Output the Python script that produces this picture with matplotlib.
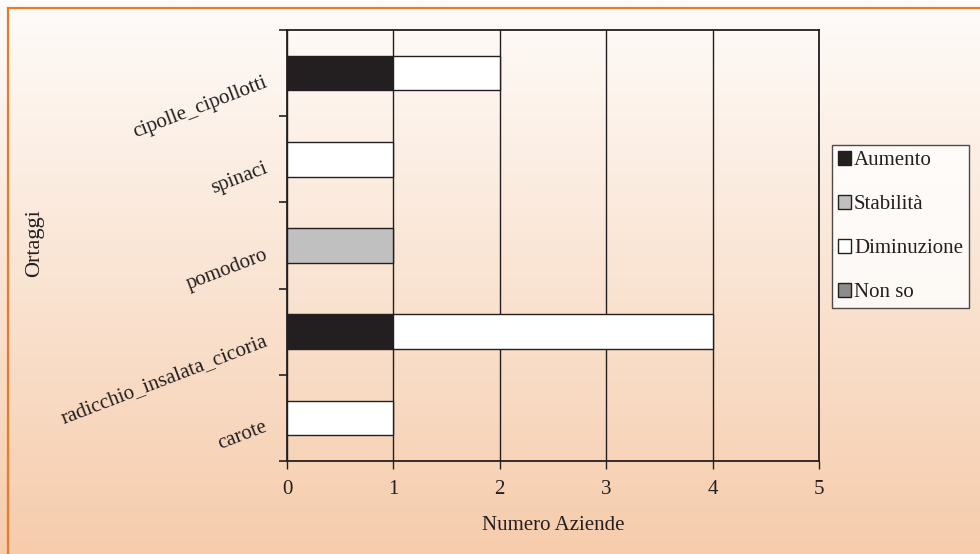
import numpy as np
import matplotlib
matplotlib.use("Agg")
import matplotlib.pyplot as plt
from matplotlib.patches import Rectangle

categories = ["carote", "radicchio_insalata_cicoria", "pomodoro", "spinaci", "cipolle_cipollotti"]
series_names = ["Aumento", "Stabilità", "Diminuzione", "Non so"]
aumento = [0, 1, 0, 0, 1]
stabilita = [0, 0, 1, 0, 0]
diminuzione = [1, 3, 0, 1, 1]
non_so = [0, 0, 0, 0, 0]
series_values = [aumento, stabilita, diminuzione, non_so]
series_colors = ["#231f20", "#c0c0c0", "#ffffff", "#8c8c8c"]
x_ticks = [0, 1, 2, 3, 4, 5]

plt.rcParams['font.family'] = ['Liberation Serif', 'DejaVu Serif']
W, H = 980, 554
fig = plt.figure(figsize=(W / 100, H / 100), dpi=100)

# background gradient
bg = fig.add_axes([0, 0, 1, 1], zorder=-10)
top = np.array([254, 252, 250]) / 255
bot = np.array([246, 204, 172]) / 255
t = np.linspace(0, 1, 256)[:, None]
grad = top[None, :] * (1 - t) + bot[None, :] * t
img = np.repeat(grad[:, None, :], 4, axis=1)
bg.imshow(img, aspect='auto', extent=[0, 1, 0, 1], origin='upper')
bg.add_patch(Rectangle((7.5 / W, -0.1), 1.2, 1.1 - 8.5 / H, fill=False,
                       edgecolor="#e87a28", linewidth=1.6, transform=bg.transAxes))
bg.set_xlim(0, 1)
bg.set_ylim(0, 1)
bg.axis('off')

ax = fig.add_axes([287 / W, 1 - 461 / H, (819 - 287) / W, (461 - 30) / H])
ax.patch.set_alpha(0)

y = np.arange(len(categories))
left = np.zeros(len(categories))
for name, vals, col in zip(series_names, series_values, series_colors):
    v = np.array(vals, dtype=float)
    w = np.where(v > 0, v, np.nan)
    ax.barh(y, w, left=left, height=0.4, color=col, edgecolor="#231f20",
            linewidth=1.0, label=name, zorder=3)
    left = left + v

ax.set_xlim(0, 5)
ax.set_ylim(-0.5, len(categories) - 0.5)
ax.set_xticks(x_ticks)
ax.set_xticklabels([str(v) for v in x_ticks], fontsize=15, color="#231f20")
ax.set_yticks(np.arange(-0.5, len(categories), 1.0))
ax.set_yticklabels([])
ax.set_yticks(y, minor=True)
ax.set_yticklabels(categories, minor=True, rotation=21, fontsize=15,
                   color="#231f20", ha='right', va='top', rotation_mode='anchor')
ax.tick_params(axis='y', which='minor', length=0, pad=17)
ax.tick_params(axis='y', which='major', length=6, width=1.2, color="#231f20")
ax.tick_params(axis='x', length=6, width=1.0, color="#231f20", pad=8)
ax.grid(axis='x', color="#231f20", linewidth=1.0, zorder=1)
ax.set_axisbelow(True)
for s in ax.spines.values():
    s.set_color("#231f20")
    s.set_linewidth(1.3)

ax.set_xlabel("Numero Aziende", fontsize=15, color="#231f20", labelpad=12)
fig.text(35 / W, 1 - 243 / H, "Ortaggi", rotation=90, fontsize=16,
         color="#231f20", ha='center', va='center')

handles, labels = ax.get_legend_handles_labels()
leg = fig.legend(handles, labels, loc='upper left',
                 bbox_to_anchor=(832 / W, 1 - 145 / H), fontsize=15,
                 frameon=True, fancybox=False, handlelength=0.6, handleheight=0.6,
                 handletextpad=0.15, labelspacing=1.2, borderpad=0.3, borderaxespad=0)
leg.get_frame().set_edgecolor("#231f20")
leg.get_frame().set_linewidth(1.0)
leg.get_frame().set_facecolor("white")
for txt in leg.get_texts():
    txt.set_color("#231f20")

fig.savefig("out.png", dpi=100)
